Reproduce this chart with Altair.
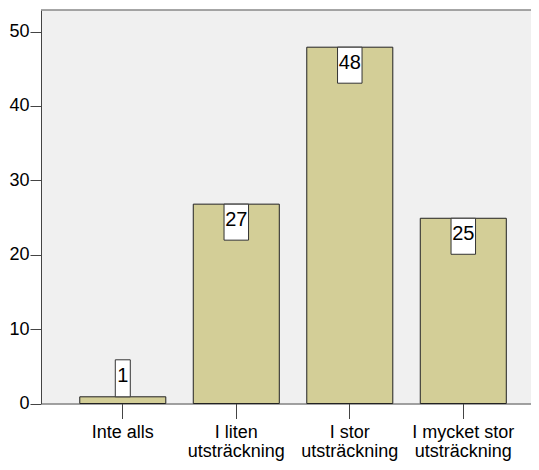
import altair as alt
import pandas as pd

categories = ["Inte alls", "I liten utsträckning", "I stor utsträckning", "I mycket stor utsträckning"]
percent = [0.9, 26.8, 47.9, 24.9]
labels = ["1", "27", "48", "25"]

df = pd.DataFrame({"category": categories, "percent": percent, "label": labels})

FONT = "Liberation Sans"

x_enc = alt.X(
    "category:N",
    sort=categories,
    title=None,
    scale=alt.Scale(paddingInner=0.242, paddingOuter=0.2796, align=0.611),
    axis=alt.Axis(
        labelAngle=0,
        labelFontSize=18,
        labelFont=FONT,
        labelColor="black",
        labelLineHeight=19,
        labelPadding=5,
        tickSize=15,
        tickColor="#444",
        domainColor="#444",
        labelExpr="indexof(datum.label, ' utsträckning') >= 0 ? [replace(datum.label, ' utsträckning', ''), 'utsträckning'] : datum.label",
    ),
)

y_scale = alt.Scale(domain=[0, 52.9], nice=False, zero=True)

base = alt.Chart(df).encode(x=x_enc).transform_calculate(
    boxw="length(datum.label) * 9.5 + 5.5"
)

bars = base.mark_bar(color="#d3ce97", stroke="#222", strokeWidth=1).encode(
    y=alt.Y(
        "percent:Q",
        scale=y_scale,
        title=None,
        axis=alt.Axis(
            values=[0, 10, 20, 30, 40, 50],
            grid=False,
            labelFontSize=18,
            labelFont=FONT,
            labelColor="black",
            tickSize=11,
            labelPadding=1,
            tickColor="#444",
            domainColor="#444",
        ),
    )
)

inside = base.transform_filter("datum.percent >= 5")
above = base.transform_filter("datum.percent < 5")

box_in = inside.mark_bar(fill="white", stroke="#333", strokeWidth=1, y2Offset=36).encode(
    y=alt.Y("percent:Q", scale=y_scale),
    y2=alt.Y2("percent:Q"),
    size=alt.Size("boxw:Q", scale=None, legend=None),
)
txt_in = inside.mark_text(fontSize=20, font=FONT, color="black", baseline="middle", yOffset=16).encode(
    y=alt.Y("percent:Q", scale=y_scale),
    text="label:N",
)

box_up = above.mark_bar(fill="white", stroke="#333", strokeWidth=1, yOffset=-37, y2Offset=0).encode(
    y=alt.Y("percent:Q", scale=y_scale),
    y2=alt.Y2("percent:Q"),
    size=alt.Size("boxw:Q", scale=None, legend=None),
)
txt_up = above.mark_text(fontSize=20, font=FONT, color="black", baseline="middle", yOffset=-21).encode(
    y=alt.Y("percent:Q", scale=y_scale),
    text="label:N",
)

top_border = alt.Chart(pd.DataFrame({"k": [0]})).mark_rule(color="#888", strokeWidth=1.5).encode(
    y=alt.value(0)
)

chart = (
    alt.layer(bars, box_in, txt_in, box_up, txt_up, top_border)
    .properties(
        width=490,
        height=393.5,
        autosize=alt.AutoSizeParams(type="none"),
        padding={"left": 33, "top": 2, "right": 0, "bottom": 58},
        background="white",
    )
    .configure_view(fill="#f0f0f0", strokeWidth=0)
)

chart.save("out.html", embed_options={"renderer": "svg", "actions": False})
